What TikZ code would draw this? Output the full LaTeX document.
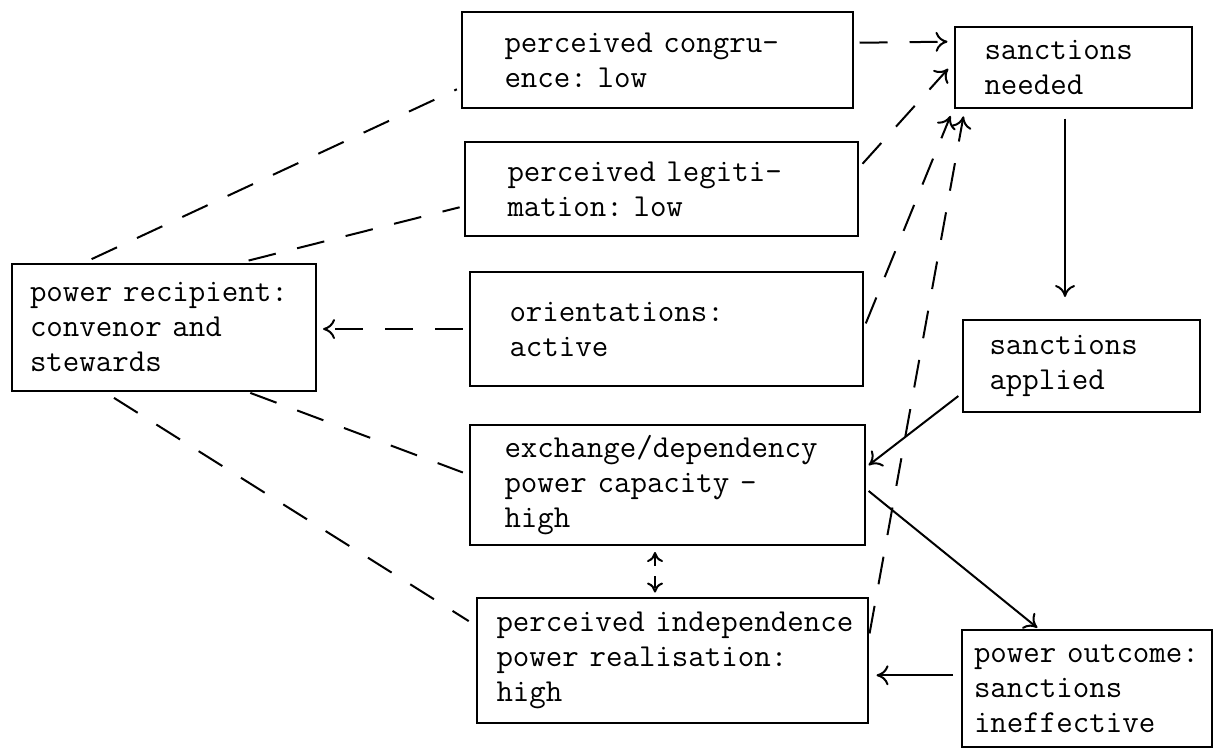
\documentclass[tikz,border=0pt]{standalone}
\usepackage{fontspec}
\usetikzlibrary{arrows.meta,positioning}
\tikzset{box/.style={rectangle,draw=black,line width=1pt,fill=white,align=left,inner ysep=0pt,font=\ttfamily\frenchspacing\fontsize{16}{17.5}\selectfont}}
\tikzset{link/.style={line width=1pt,dash pattern=on 14pt off 11pt}}
\tikzset{dashArrow/.style={link,-{To[length=6pt,width=10pt]}}}
\tikzset{solidArrow/.style={line width=1pt,-{To[length=6pt,width=10pt]}}}

\begin{document}
\begin{tikzpicture}[x=0.5pt,y=-0.5pt]
\useasboundingbox (0,0) rectangle (1215,750);
\begin{scope}
	% left box
	\node (recip) [box, minimum width=152pt, minimum height=63.5pt, inner xsep=9pt, text width=134pt] at (164,327) {power~recipient:\\convenor~and\\stewards};
	% middle column
	\node (congr) [box, minimum width=195.5pt, minimum height=48pt, inner xsep=21.5pt, text width=152.5pt] at (657,60) {perceived~congru-\\ence:~low};
	\node (legit) [box, minimum width=196.5pt, minimum height=47pt, inner xsep=21.5pt, text width=153.5pt] at (661,189) {perceived~legiti-\\mation:~low};
	\node (orient) [box, minimum width=196.5pt, minimum height=57pt, inner xsep=20pt, text width=156.5pt] at (666,329) {orientations:\\active};
	\node (exch) [box, minimum width=197.5pt, minimum height=60pt, inner xsep=17.5pt, text width=162.5pt] at (667,485) {exchange/dependency\\power~capacity~-\\high};
	\node (indep) [box, minimum width=195.5pt, minimum height=62.5pt, inner xsep=10pt, text width=175.5pt] at (672,660) {perceived~independence\\power~realisation:\\high};
	% right column
	\node (needed) [box, minimum width=118.5pt, minimum height=40.5pt, inner xsep=15pt, text width=88.5pt] at (1073,67) {sanctions\\needed};
	\node (applied) [box, minimum width=118.5pt, minimum height=46pt, inner xsep=13.5pt, text width=91.5pt] at (1081,366) {sanctions\\applied};
	\node (outcome) [box, minimum width=125pt, minimum height=58.5pt, inner xsep=6pt, text width=113pt] at (1087,688.5) {power~outcome:\\sanctions\\ineffective};
\end{scope}
	% dashed links from the recipient
	\draw [link, shorten <=4pt, shorten >=2pt] (recip.141) -- (congr.188);
	\draw [link, shorten <=4pt, shorten >=2pt] (recip.40) -- (legit.185);
	\draw [dashArrow, shorten <=3pt, shorten >=3pt] (orient.west) -- (orient.west -| recip.east);
	\draw [link, shorten <=2pt, shorten >=3pt] (recip.322) -- (exch.177);
	\draw [link, shorten <=6pt, shorten >=4pt] (recip.227) -- (indep.170);
	% dashed arrows into sanctions needed
	\draw [dashArrow, shorten <=3pt, shorten >=3pt] (congr.5) -- (needed.168);
	\draw [dashArrow, shorten <=3pt, shorten >=4pt] (legit.6) -- (needed.178);
	\draw [dashArrow, shorten <=3pt, shorten >=4pt] (orient.east) -- (needed.south west);
	\draw [dashArrow, shorten <=3pt, shorten >=4pt] (indep.6) -- (needed.201);
	% solid arrows
	\draw [solidArrow, shorten <=5pt, shorten >=11pt] ([xshift=-4pt]needed.south) -- ([xshift=-4pt]needed.south |- applied.north);
	\draw [solidArrow, shorten <=2pt, shorten >=2pt] (applied.193) -- (exch.5);
	\draw [solidArrow, shorten <=2pt, shorten >=1pt] (exch.359) -- (outcome.129);
	\draw [solidArrow, shorten <=4pt, shorten >=4pt] (outcome.174) -- (outcome.174 -| indep.east);
	\draw [link, dash pattern=on 6pt off 5pt, {To[length=5pt,width=8pt]}-{To[length=5pt,width=8pt]}, shorten <=3pt, shorten >=2pt] ([xshift=-6pt]exch.south) -- ([xshift=-6pt]exch.south |- indep.north);
\end{tikzpicture}
\end{document}
